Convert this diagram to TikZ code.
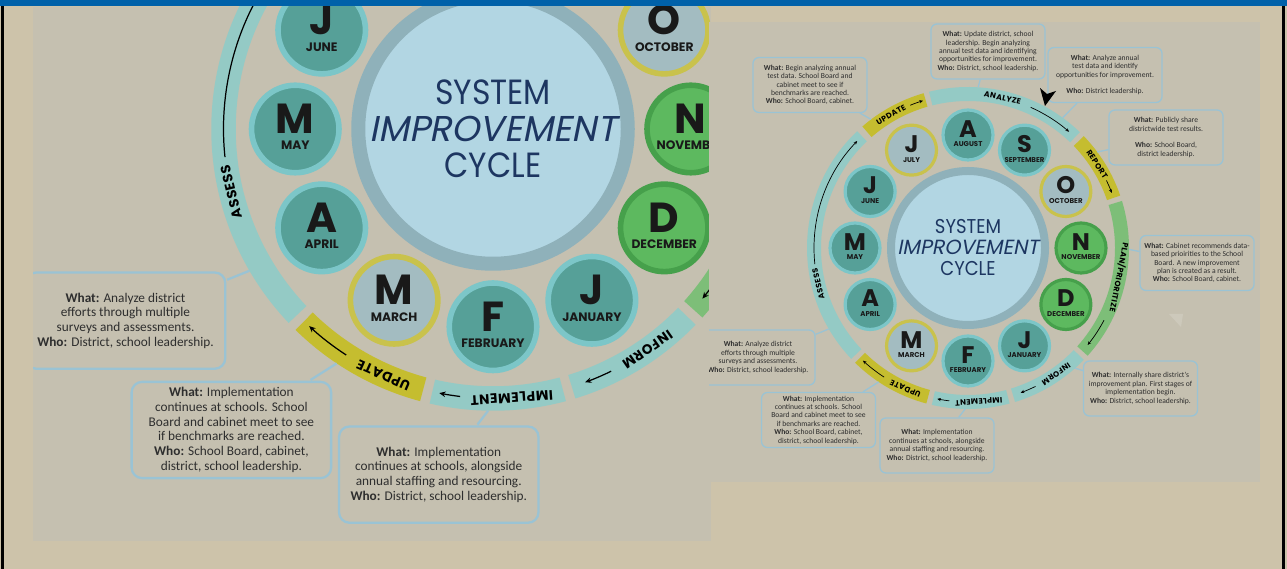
\documentclass[tikz,border=0pt]{standalone}
\usepackage{fontspec}
\setmainfont{Poppins}
\newfontfamily\notefont{Carlito}
\newfontfamily\stagefont[LetterSpace=5]{Poppins}
\newfontfamily\hubfont[FakeStretch=0.9]{Poppins}
\newfontfamily\hubslant[FakeSlant=0.2]{Poppins}
\usepackage{tikz}
\usetikzlibrary{arrows.meta}
\definecolor{PageBg}{HTML}{CDC3AA}
\definecolor{PanelBg}{HTML}{C5C0B0}
\definecolor{TopBar}{HTML}{0061A9}
\definecolor{BandTeal}{HTML}{94CAC5}
\definecolor{BandGold}{HTML}{C5BD2F}
\definecolor{BandGreen}{HTML}{7DBE78}
\definecolor{MonTeal}{HTML}{56A098}
\definecolor{MonTealRim}{HTML}{7CC6C8}
\definecolor{MonPale}{HTML}{A3BCC1}
\definecolor{MonPaleRim}{HTML}{C9C24C}
\definecolor{MonGreen}{HTML}{5DB95F}
\definecolor{MonGreenRim}{HTML}{46A04B}
\definecolor{HubFill}{HTML}{B2D6E3}
\definecolor{HubRim}{HTML}{8FB1BA}
\definecolor{HubText}{HTML}{1D3661}
\definecolor{NoteLine}{HTML}{9AC3D4}
\definecolor{NoteText}{HTML}{2E2E2E}

% line widths and tips are multiplied by this inside a zoomed copy
\def\cyclw{1}
% the zoomed copy only shows the lower left part of the cycle
\newif\iffullcycle

% the whole cycle, centred on (0,0), one unit = one point
\newcommand\improvementcycle{%
  % hub
  \node[hub] (hub) at (0,0) {};
  \node[hubtext] (hub-a) at (0,14) {SYSTEM};
  \node[hubtext,font=\hubslant\fontsize{20.5}{22}\selectfont] (hub-b) at (0,-7) {IMPROVEMENT};
  \node[hubtext] (hub-c) at (0,-28) {CYCLE};
  % ring segments
  \foreach \a/\b/\c in {106/131/BandGold, 133.5/223.5/BandTeal, 225.5/255/BandGold,
      257/285/BandTeal, 287/316/BandTeal, 318/377/BandGreen, 379/404/BandGold, 406/464/BandTeal}
    \fill[\c] (\a:147) arc[start angle=\a,end angle=\b,radius=147]
      -- (\b:161) arc[start angle=\b,end angle=\a,radius=161] -- cycle;
  % stage names
  \node[stage,rotate=-145] (st-inf) at (-55:154) {INFORM};
  \node[stage,rotate=-176] (st-imp) at (-86:154) {IMPLEMENT};
  \node[stage,rotate=-204] (st-upd2) at (-114:154) {UPDATE};
  \node[stage,rotate=103.5] (st-ass) at (193.5:154) {ASSESS};
  \iffullcycle
    \node[stage,rotate=30] (st-upd1) at (120:154) {UPDATE};
    \node[stage,rotate=-13] (st-ana) at (77:154) {ANALYZE};
    \node[stage,rotate=-57] (st-rep) at (33:154) {REPORT};
    \node[stage,rotate=-101] (st-pla) at (-11:154) {PLAN/PRIORITIZE};
  \fi
  % direction arrows
  \draw[flow] (112:154) arc[start angle=112,end angle=107,radius=154];
  \draw[flow] (66:154) arc[start angle=66,end angle=49,radius=154];
  \draw[flow] (26:154) arc[start angle=26,end angle=21,radius=154];
  \draw[flow] (-28:154) arc[start angle=-28,end angle=-39,radius=154];
  \draw[flow] (-64:154) arc[start angle=-64,end angle=-70,radius=154];
  \draw[flow] (-97:154) arc[start angle=-97,end angle=-101.5,radius=154];
  \draw[flow] (-123:154) arc[start angle=-123,end angle=-133,radius=154];
  \draw[flow] (186:154) arc[start angle=186,end angle=136,radius=154];
  % months
  \foreach \ang/\ltr/\mname/\kind in {30/O/OCTOBER/monpale, 0/N/NOVEMBER/mongreen,
      -30/D/DECEMBER/mongreen, -60/J/JANUARY/monteal, -90/F/FEBRUARY/monteal,
      -120/M/MARCH/monpale, -150/A/APRIL/monteal, 180/M/MAY/monteal, 150/J/JUNE/monteal}{
    \node[\kind] (m-\mname) at (\ang:113) {};
    \node[monthletter] (l-\mname) at ([shift={(0,-2.5)}]\ang:113) {\ltr};
    \node[monthname] (n-\mname) at ([shift={(0,-12)}]\ang:113) {\mname};
  }
  \iffullcycle
    \foreach \ang/\ltr/\mname/\kind in {90/A/AUGUST/monteal, 60/S/SEPTEMBER/monteal,
        120/J/JULY/monpale}{
      \node[\kind] (m-\mname) at (\ang:113) {};
      \node[monthletter] (l-\mname) at ([shift={(0,-2.5)}]\ang:113) {\ltr};
      \node[monthname] (n-\mname) at ([shift={(0,-12)}]\ang:113) {\mname};
    }
  \fi
  % notes
  \node[note] (note-g) at (-31,-197.5) {\textbf{What:} Implementation\\continues at schools, alongside\\annual staffing and resourcing.\\\textbf{Who:} District, school leadership.};
  \node[note] (note-h) at (-149.5,-172) {\textbf{What:} Implementation\\continues at schools. School\\Board and cabinet meet to see\\if benchmarks are reached.\\\textbf{Who:} School Board, cabinet,\\district, school leadership.};
  \node[note] (note-i) at (-210,-109.5) {\textbf{What:} Analyze district\\efforts through multiple\\surveys and assessments.\\\textbf{Who:} District, school leadership.};
  \coordinate (tie-g) at (-91:161);
  \coordinate (tie-h) at (-123.7:161);
  \coordinate (tie-i) at (-149.8:161);
  \foreach \k in {g,h,i}
    \draw[tie] (note-\k) -- (tie-\k);
  \iffullcycle
    \node[note] (note-a) at (20,196.5) {\textbf{What:} Update district, school\\leadership. Begin analyzing\\annual test data and identifying\\opportunities for improvement.\\\textbf{Who:} District, school leadership.};
    \node[note] (note-b) at (-158,163) {\textbf{What:} Begin analyzing annual\\test data. School Board and\\cabinet meet to see if\\benchmarks are reached.\\\textbf{Who:} School Board, cabinet.};
    \node[note] (note-c) at (137,173) {\textbf{What:} Analyze annual\\test data and identify\\opportunities for improvement.\\[8.4pt]\textbf{Who:} District leadership.};
    \node[note] (note-d) at (198,110.5) {\textbf{What:} Publicly share\\districtwide test results.\\[8.4pt]\textbf{Who:} School Board,\\district leadership.};
    \node[note] (note-e) at (229,-15) {\textbf{What:} Cabinet recommends data-\\based prioirities to the School\\Board. A new improvement\\plan is created as a result.\\\textbf{Who:} School Board, cabinet.};
    \node[note] (note-f) at (172.5,-140.5) {\textbf{What:} Internally share district's\\improvement plan. First stages of\\implementation begin.\\\textbf{Who:} District, school leadership.};
    \coordinate (tie-a) at (86.4:161);
    \coordinate (tie-b) at (127:161);
    \coordinate (tie-c) at (54:161);
    \coordinate (tie-d) at (36.6:161);
    \coordinate (tie-e) at (-0.5:161);
    \coordinate (tie-f) at (-48.3:161);
    \foreach \k in {a,b,c,d,e,f}
      \draw[tie] (note-\k) -- (tie-\k);
    % pointer on the analyze note
    \fill[black] (77,142) -- (72,160) -- (79,154) -- (88,157) -- cycle;
    \fill[white,opacity=0.15] (201,-66) -- (215,-66) -- (213,-79) -- cycle;
  \fi
}

\begin{document}
\begin{tikzpicture}[x=1pt,y=1pt]
  \tikzstyle{hub}=[circle,minimum size=154,inner sep=0pt,fill=HubFill,draw=HubRim,
    line width=\cyclw*8pt]
  \tikzstyle{hubtext}=[anchor=base,inner sep=0pt,text=HubText,
    font=\hubfont\fontsize{20}{22}\selectfont]
  \tikzstyle{stage}=[inner sep=0pt,text height=5.6pt,text depth=0pt,
    font=\stagefont\bfseries\fontsize{7.8}{8}\selectfont]
  \tikzstyle{flow}=[draw=black,line width=\cyclw*0.7pt,
    -{Stealth[length=3.6pt,width=3.2pt,scale=\cyclw]}]
  \tikzstyle{month}=[circle,minimum size=50,inner sep=0pt,line width=\cyclw*3.2pt]
  \tikzstyle{monteal}=[month,fill=MonTeal,draw=MonTealRim]
  \tikzstyle{monpale}=[month,fill=MonPale,draw=MonPaleRim]
  \tikzstyle{mongreen}=[month,fill=MonGreen,draw=MonGreenRim]
  \tikzstyle{monthletter}=[anchor=base,inner sep=0pt,text=black!90,
    font=\bfseries\fontsize{24}{24}\selectfont]
  \tikzstyle{monthname}=[anchor=base,inner sep=0pt,text=black!90,
    font=\bfseries\fontsize{7}{8}\selectfont]
  \tikzstyle{note}=[draw=NoteLine,fill=PanelBg,line width=\cyclw*1.3pt,
    rounded corners=\cyclw*6pt,minimum width=114,minimum height=55,inner sep=2pt,
    align=center,text=NoteText,font=\notefont\fontsize{7.6}{8.4}\selectfont]
  \tikzstyle{tie}=[draw=NoteLine,line width=\cyclw*1.3pt]

  \useasboundingbox (0,0) rectangle (1287,569);
  \fill[PageBg] (0,0) rectangle (1287,569);

  % zoomed copy on the left
  \begin{scope}
    \clip (33,28) rectangle (711,562);
    \fill[PanelBg] (33,28) rectangle (711,562);
    \begin{scope}[shift={(493,440)},scale=1.75,transform shape,name prefix=zoom-]
      \def\cyclw{1.75}
      \improvementcycle
    \end{scope}
  \end{scope}

  % full cycle on the right
  \begin{scope}
    \clip (709,87) rectangle (1260,547);
    \fill[PanelBg] (709,87) rectangle (1260,547);
    \begin{scope}[shift={(968,321)},name prefix=full-]
      \fullcycletrue
      \improvementcycle
    \end{scope}
  \end{scope}

  % frame
  \fill[TopBar] (0,562.5) rectangle (1287,569);
  \fill[black] (1,0) rectangle (3.5,562.5);
  \fill[black] (1281.5,0) rectangle (1284.5,562.5);
\end{tikzpicture}
\end{document}
